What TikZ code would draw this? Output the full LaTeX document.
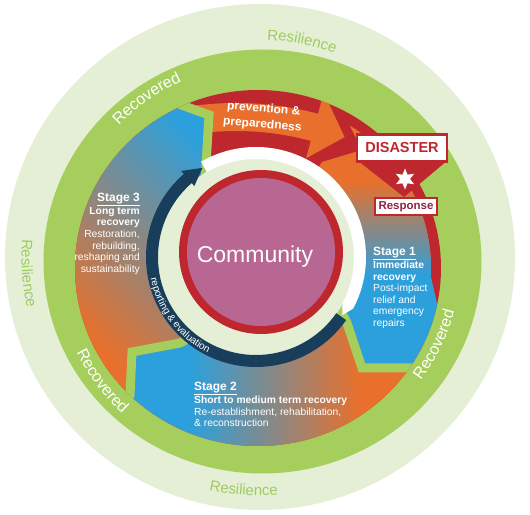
\documentclass[tikz,border=0pt]{standalone}
\usepackage{fontspec}
\setmainfont{Liberation Sans}
\usetikzlibrary{calc,decorations.text,shapes.geometric}
\definecolor{lgreen}{HTML}{E5EFD6}
\definecolor{mgreen}{HTML}{A5CE5C}
\definecolor{rgreen}{HTML}{9FCB62}
\definecolor{cred}{HTML}{BE272D}
\definecolor{corange}{HTML}{E8702C}
\definecolor{cblue}{HTML}{2CA0DC}
\definecolor{cpurple}{HTML}{B76791}
\definecolor{cnavy}{HTML}{183E5C}
\definecolor{cmaroon}{HTML}{8E2444}
\tikzset{
  stagetxt/.style={text=white, inner sep=0pt, font=\fontsize{10.3}{11.6}\selectfont},
  chev/.style={draw=mgreen, line width=9pt, line join=miter},
  boxed/.style={draw=cred, fill=white, inner sep=0pt},
}
\newcommand{\recfont}{\fontsize{16}{16}\selectfont}
\newcommand{\resfont}{\fontsize{15}{15}\selectfont}
\newcommand{\gradfill}[3]{%
  \fill[corange] (-50,-50) rectangle (600,600);
  \foreach \k in {0,...,29}{%
    \pgfmathsetmacro{\pa}{(\k+0.5)*100/30}%
    \pgfmathsetmacro{\da}{\k*#3/30}%
    \pgfmathsetmacro{\db}{(\k+1)*#3/30+0.8}%
    \fill[cblue!\pa!corange] ($(#1)+(#2:\da)+({#2+90}:600)$) -- ($(#1)+(#2:\db)+({#2+90}:600)$) -- ($(#1)+(#2:\db)+({#2-90}:600)$) -- ($(#1)+(#2:\da)+({#2-90}:600)$) -- cycle;
  }%
  \fill[cblue] ($(#1)+(#2:#3)+({#2+90}:600)$) -- ($(#1)+(#2:{#3+900})+({#2+90}:600)$) -- ($(#1)+(#2:{#3+900})+({#2-90}:600)$) -- ($(#1)+(#2:#3)+({#2-90}:600)$) -- cycle;
}
\begin{document}
\begin{tikzpicture}[x=1pt,y=1pt]
\useasboundingbox (0,0) rectangle (530,514);
% ---------- named points in pixel coordinates (y down) ----------
\begin{scope}[y=-1pt, shift={(0pt,514pt)}]
  \coordinate (Ld) at (260,257);
  \coordinate (Gc) at (262.5,261.5);
  \coordinate (Cc) at (258,268);
  \coordinate (R) at (256,257);
  \coordinate (O) at (261,252);
  \coordinate (Q) at (236,420);
  \coordinate (b3oe) at (138,57);  \coordinate (b3o) at (165,99);
  \coordinate (b3t) at (209,115);  \coordinate (b3i) at (206,165);
  \coordinate (b3ie) at (204,205);
  \coordinate (b1oe) at (453,398); \coordinate (b1o) at (413,368);
  \coordinate (b1t) at (362,368);  \coordinate (b1i) at (347,323);
  \coordinate (b1ie) at (330,290);
  \coordinate (b2oe) at (96,432);  \coordinate (b2o) at (130,395);
  \coordinate (b2t) at (132,352);  \coordinate (b2i) at (180,343);
  \coordinate (b2ie) at (222,320);
  \coordinate (b0ie) at (290,210); \coordinate (b0i) at (322,162);
  \coordinate (b0t) at (362,150);
  \coordinate (s1a) at (450,360);
  \coordinate (f1) at (0,400); \coordinate (f2) at (0,150); \coordinate (f3) at (60,20);
  \coordinate (f4) at (480,520); \coordinate (f5) at (60,520);
  \coordinate (g1) at (380,182); \coordinate (g2) at (360,400); \coordinate (g3) at (88,335);
  \coordinate (t1) at (357,160); \coordinate (t2) at (448,160); \coordinate (t3) at (404,197);
\end{scope}
% ---------- rings ----------
\fill[lgreen] (Ld) ellipse [x radius=255, y radius=253];
\fill[mgreen] (Gc) ellipse [x radius=219, y radius=212];
\begin{scope}
  \clip (Cc) ellipse [x radius=183, y radius=178];
  \fill[cred] (Cc) ellipse [x radius=184, y radius=179];
  % prevention arrow
  \fill[corange] ($(Q)+(100:289)$) arc [start angle=100, end angle=75, radius=289]
    -- ($(Q)+(75:271)$) -- ($(Q)+(69:303)$) -- ($(Q)+(75:339)$)
    -- ($(Q)+(75:317)$) arc [start angle=75, end angle=100, radius=317] -- cycle;
  % stage 1
  \begin{scope}
    \clip (O) -- (b0ie) -- (b0i) -- (b0t) -- ($(Cc)+({173*cos(58)},{168*sin(58)})$)
      arc [start angle=58, end angle=-3, x radius=173, y radius=168] -- (s1a) -- (b1oe) -- (b1o)
      -- (b1t) -- (b1i) -- (b1ie) -- cycle;
    \gradfill{g1}{-90}{95}
  \end{scope}
  % stage 2
  \begin{scope}
    \clip (O) -- (b1ie) -- (b1i) -- (b1t) -- (b1o) -- (b1oe) -- (f4) -- (f5)
      -- (b2oe) -- (b2o) -- (b2t) -- (b2i) -- (b2ie) -- cycle;
    \gradfill{g2}{180}{170}
  \end{scope}
  % stage 3
  \begin{scope}
    \clip (O) -- (b2ie) -- (b2i) -- (b2t) -- (b2o) -- (b2oe) -- (f1) -- (f2) -- (f3)
      -- (b3oe) -- (b3o) -- (b3t) -- (b3i) -- (b3ie) -- cycle;
    \gradfill{g3}{45}{215}
  \end{scope}
  % green chevron gaps
  \draw[chev] (b3oe) -- (b3o) -- (b3t) -- (b3i) -- (b3ie);
  \draw[chev] (b1oe) -- (b1o) -- (b1t) -- (b1i) -- (b1ie);
  \draw[chev] (b2oe) -- (b2o) -- (b2t) -- (b2i) -- (b2ie);
\end{scope}
% ---------- inner ring ----------
\fill[lgreen] (R) circle [radius=98.5];
\fill[cnavy] ($(R)+(130:110)$) arc [start angle=130, end angle=325, radius=110]
  -- ($(R)+(325:98)$) arc [start angle=325, end angle=130, radius=98] -- cycle;
\fill[cnavy] ($(R)+(131:94)$) -- ($(R)+(121:104)$) -- ($(R)+(131:114)$) -- cycle;
\fill[white] ($(R)+(120:110)$) arc [start angle=120, end angle=-28, radius=110]
  -- ($(R)+(-34:104)$) -- ($(R)+(-28:98)$) arc [start angle=-28, end angle=120, radius=98] -- cycle;
\path[decorate, decoration={text along path, text align=center, text color=white,
  text={|\fontsize{10}{10}\selectfont|reporting {\&} evaluation}}]
  ($(R)+(185:107.5)$) arc [start angle=185, end angle=250, radius=107.5];
% ---------- community ----------
\fill[cred] (O) circle [radius=82];
\fill[cpurple] (O) circle [radius=74];
% ---------- disaster / response ----------
\fill[cred] (t1) -- (t2) -- (t3) -- cycle;
\begin{scope}[y=-1pt, shift={(0pt,514pt)}]
  \node[boxed, line width=2.5pt, minimum width=90, minimum height=27,
    text=cred, font=\fontsize{14.5}{14.5}\selectfont\bfseries] (dis) at (402,148) {DISASTER};
  \node[star, star points=6, star point ratio=2.1, fill=white, minimum size=21, inner sep=0pt] (star) at (405,179) {};
  \node[boxed, line width=2pt, minimum width=62, minimum height=17,
    text=cmaroon, font=\fontsize{11.5}{11.5}\selectfont\bfseries] (resp) at (406,206.5) {Response};
  \node[text=white, font=\fontsize{23}{23}\selectfont] (comm) at (255,257) {Community};
  \node[text=white, align=center, rotate=-5, inner sep=0pt,
    font=\fontsize{12}{15.5}\selectfont\bfseries] (prev) at (263,117) {prevention \&\\preparedness};
  \node[stagetxt, anchor=north west, align=left] (s1) at (373,247)
    {{\fontsize{12}{12}\selectfont\bfseries\underline{Stage 1}}\\ \textbf{Immediate}\\ \textbf{recovery}\\ Post-impact\\ relief and\\ emergency\\ repairs};
  \node[stagetxt, anchor=north east, align=right] (s3) at (140,193)
    {{\fontsize{12}{12}\selectfont\bfseries\underline{Stage 3}}\\ \textbf{Long term}\\ \textbf{recovery}\\ Restoration,\\ rebuilding,\\ reshaping and\\ sustainability};
  \node[stagetxt, anchor=north west, align=left] (s2) at (194,382)
    {{\fontsize{12}{12}\selectfont\bfseries\underline{Stage 2}}\\ \textbf{Short to medium term recovery}\\ Re-establishment, rehabilitation,\\ \& reconstruction};
\end{scope}
% ---------- ring labels ----------
\path[decorate, decoration={text along path, text align=center, text color=white, text={|\recfont|Recovered}}]
  ($(Gc)+(150.4:197.5)$) arc [start angle=150.4, end angle=100.4, radius=197.5];
\path[decorate, decoration={text along path, text align=center, text color=white, text={|\recfont|Recovered}}]
  ($(Gc)+(-50.7:198)$) arc [start angle=-50.7, end angle=-0.7, radius=198];
\path[decorate, decoration={text along path, text align=center, text color=white, text={|\recfont|Recovered}}]
  ($(Gc)+(191.7:207)$) arc [start angle=191.7, end angle=241.7, radius=207];
\path[decorate, decoration={text along path, text align=center, text color=rgreen, text={|\resfont|Resilience}}]
  ($(Ld)+(109:217)$) arc [start angle=109, end angle=49, radius=217];
\path[decorate, decoration={text along path, text align=center, text color=rgreen, text={|\resfont|Resilience}}]
  ($(Ld)+(154:238.5)$) arc [start angle=154, end angle=214, radius=238.5];
\path[decorate, decoration={text along path, text align=center, text color=rgreen, text={|\resfont|Resilience}}]
  ($(Ld)+(236:238.5)$) arc [start angle=236, end angle=296, radius=238.5];
\end{tikzpicture}
\end{document}
